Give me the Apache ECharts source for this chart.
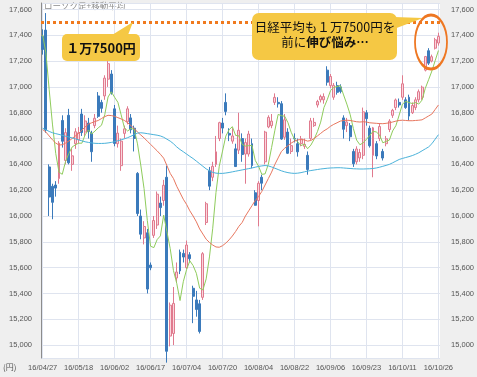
<!DOCTYPE html>
<html>
<head>
<meta charset="utf-8">
<script src="https://cdn.jsdelivr.net/npm/echarts@6.0.0/dist/echarts.min.js"></script>
<style>
html,body{margin:0;padding:0;background:#efefef;}
#chart{width:477px;height:377px;}
</style>
</head>
<body>
<div id="chart"></div>
<script>
// 日経平均 日足 16/04/27 - 16/10/26
var dates = ['16/04/27','16/04/28','16/05/02','16/05/06','16/05/09','16/05/10','16/05/11','16/05/12','16/05/13','16/05/16',
  '16/05/17','16/05/18','16/05/19','16/05/20','16/05/23','16/05/24','16/05/25','16/05/26','16/05/27','16/05/30',
  '16/05/31','16/06/01','16/06/02','16/06/03','16/06/06','16/06/07','16/06/08','16/06/09','16/06/10','16/06/13',
  '16/06/14','16/06/15','16/06/16','16/06/17','16/06/20','16/06/21','16/06/22','16/06/23','16/06/24','16/06/27',
  '16/06/28','16/06/29','16/06/30','16/07/01','16/07/04','16/07/05','16/07/06','16/07/07','16/07/08','16/07/11',
  '16/07/12','16/07/13','16/07/14','16/07/15','16/07/19','16/07/20','16/07/21','16/07/22','16/07/25','16/07/26',
  '16/07/27','16/07/28','16/07/29','16/08/01','16/08/02','16/08/03','16/08/04','16/08/05','16/08/08','16/08/09',
  '16/08/10','16/08/12','16/08/15','16/08/16','16/08/17','16/08/18','16/08/19','16/08/22','16/08/23','16/08/24',
  '16/08/25','16/08/26','16/08/29','16/08/30','16/08/31','16/09/01','16/09/02','16/09/05','16/09/06','16/09/07',
  '16/09/08','16/09/09','16/09/12','16/09/13','16/09/14','16/09/15','16/09/16','16/09/20','16/09/21','16/09/23',
  '16/09/26','16/09/27','16/09/28','16/09/29','16/09/30','16/10/03','16/10/04','16/10/05','16/10/06','16/10/07',
  '16/10/11','16/10/12','16/10/13','16/10/14','16/10/17','16/10/18','16/10/19','16/10/20','16/10/21','16/10/24',
  '16/10/25','16/10/26'];

var opens = [17390,17440,16380,16230,16240,16290,16740,16430,16780,16400,
  16560,16590,16790,16650,16720,16640,16700,16930,16880,16930,
  17060,17100,16830,16560,16390,16640,16730,16760,16680,16330,
  16000,15830,15870,15620,15850,15930,16100,16120,16300,15070,
  15090,15520,15720,15710,15600,15700,15440,15350,15320,15370,
  15950,16350,16300,16400,16600,16720,16880,16640,16580,16520,
  16510,16600,16480,16480,16560,16180,16120,16300,16420,16690,
  16700,16880,16880,16870,16610,16650,16500,16600,16560,16560,
  16540,16470,16600,16700,16860,16900,16900,17130,17010,16920,
  17010,17000,16760,16700,16700,16500,16420,16450,16470,16800,
  16680,16470,16560,16600,16500,16560,16670,16780,16840,16880,
  16920,16900,16920,16800,16840,16900,16920,17130,17280,17200,
  17300,17340];

var closes = [17290,16666,16147,16106,16216,16565,16579,16646,16412,16466,
  16653,16644,16646,16736,16654,16498,16757,16772,16834,17068,
  17180,16955,16562,16642,16580,16675,16830,16668,16601,16019,
  15859,15919,15434,15599,15965,16169,16065,16238,14952,15309,
  15323,15566,15575,15682,15775,15669,15378,15276,15106,15708,
  16095,16231,16385,16497,16723,16681,16810,16627,16620,16383,
  16664,16476,16569,16635,16391,16083,16254,16254,16650,16764,
  16735,16919,16869,16596,16745,16486,16545,16598,16497,16597,
  16555,16360,16737,16725,16887,16926,16925,17037,17081,17012,
  16958,16965,16672,16729,16614,16405,16519,16492,16807,16754,
  16544,16683,16465,16693,16449,16598,16735,16819,16899,16860,
  17024,16840,16774,16856,16900,16963,16998,17235,17184,17234,
  17365,17391];

var highs = [17446,17572,16400,16250,16270,16580,16780,16680,16830,16520,
  16680,16690,16830,16780,16760,16660,16790,16960,16900,17090,
  17200,17130,16860,16700,16600,16700,16850,16790,16700,16340,
  16050,15960,15900,15640,16000,16190,16150,16280,16390,15330,
  15450,15640,15740,15740,15810,15720,15460,15420,15350,15720,
  16110,16380,16420,16620,16730,16760,16950,16680,16680,16560,
  16800,16640,16600,16660,16600,16200,16270,16320,16660,16780,
  16790,16950,16920,16890,16790,16680,16600,16640,16600,16620,
  16600,16500,16760,16760,16900,16940,16950,17160,17100,17030,
  17040,17020,16780,16760,16720,16520,16540,16520,16840,16820,
  16700,16690,16580,16720,16520,16620,16750,16830,16910,16910,
  17090,16920,16940,16880,16920,16980,17010,17240,17300,17250,
  17380,17420];

var lows = [17250,16645,16000,15975,16150,16250,16530,16400,16400,16350,
  16520,16560,16620,16620,16600,16420,16680,16760,16800,16900,
  17000,16940,16540,16530,16350,16600,16710,16640,16500,16000,
  15820,15780,15400,15580,15830,15900,16000,16080,14864,14990,
  15000,15480,15550,15640,15590,15640,15170,15220,15090,15350,
  15930,16200,16270,16380,16580,16640,16780,16580,16560,16380,
  16480,16420,16250,16460,16370,16080,15920,16200,16400,16680,
  16680,16860,16840,16590,16590,16480,16480,16570,16460,16540,
  16520,16320,16590,16690,16840,16880,16870,17010,16990,16900,
  16940,16950,16600,16650,16580,16380,16400,16420,16440,16700,
  16530,16300,16440,16580,16430,16540,16650,16760,16820,16840,
  16900,16830,16740,16790,16820,16880,16900,17120,17170,17190,
  17290,17320];

// 移動平均 (5日・25日・75日)
var ma5 = [17403,17264,16979,16712,16485,16340,16323,16422,16484,16534,
  16551,16564,16564,16629,16667,16636,16658,16683,16703,16786,
  16922,16962,16920,16881,16784,16683,16658,16679,16671,16559,
  16395,16213,15966,15766,15755,15817,15846,16007,15878,15747,
  15577,15478,15345,15491,15584,15653,15616,15556,15441,15427,
  15513,15683,15905,16183,16386,16503,16619,16668,16692,16624,
  16621,16554,16542,16545,16547,16431,16386,16323,16326,16401,
  16531,16664,16787,16777,16773,16723,16648,16594,16574,16545,
  16558,16521,16549,16595,16653,16727,16840,16900,16971,16996,
  17003,17011,16938,16867,16788,16677,16588,16552,16567,16595,
  16623,16656,16651,16628,16567,16578,16588,16659,16700,16782,
  16867,16888,16879,16871,16879,16867,16898,16990,17056,17123,
  17203,17282];

var ma25 = [16670,16650,16620,16590,16565,16550,16552,16565,16580,16600,
  16620,16640,16665,16690,16712,16722,16732,16740,16755,16770,
  16780,16778,16772,16762,16752,16740,16722,16700,16678,16650,
  16628,16605,16580,16555,16530,16505,16478,16448,16390,16330,
  16290,16230,16180,16130,16090,16040,16000,15955,15900,15860,
  15820,15795,15775,15760,15758,15770,15790,15815,15845,15880,
  15920,15950,16000,16040,16080,16120,16150,16190,16240,16290,
  16340,16400,16450,16500,16525,16545,16565,16580,16590,16592,
  16590,16580,16585,16600,16620,16640,16660,16675,16695,16710,
  16722,16735,16740,16742,16740,16735,16730,16728,16730,16728,
  16722,16720,16718,16716,16715,16718,16722,16728,16735,16740,
  16742,16740,16738,16738,16740,16742,16745,16760,16775,16790,
  16825,16860];

var ma75 = [16680,16668,16655,16645,16638,16632,16625,16618,16612,16605,
  16598,16590,16582,16575,16570,16566,16563,16562,16562,16563,
  16566,16570,16576,16583,16590,16598,16607,16618,16630,16642,
  16645,16642,16638,16634,16630,16626,16620,16610,16595,16580,
  16560,16535,16515,16498,16480,16462,16445,16425,16405,16385,
  16365,16350,16338,16332,16330,16330,16333,16337,16342,16347,
  16352,16357,16362,16367,16372,16378,16384,16388,16391,16388,
  16380,16370,16360,16350,16342,16336,16332,16330,16332,16336,
  16342,16348,16352,16356,16360,16364,16367,16370,16372,16373,
  16374,16374,16372,16370,16368,16366,16365,16364,16364,16365,
  16366,16368,16372,16378,16385,16392,16400,16412,16425,16438,
  16446,16453,16460,16468,16478,16490,16505,16520,16535,16560,
  16595,16630];

var line17500 = 17500;

var candles = dates.map(function (d, i) {
  return [opens[i], closes[i], lows[i], highs[i]];
});

function comma(v) {
  return String(v).replace(/\B(?=(\d{3})+(?!\d))/g, ',');
}

var jp = '"Noto Sans CJK JP"';
var gold = '#f5c844';
var labelStyle = { fontSize: 7.5, color: '#555', fontFamily: 'Arial, "Liberation Sans"' };

var myChart = echarts.init(document.getElementById('chart'));
var option = {
  backgroundColor: '#efefef',
  animation: false,
  grid: {
    left: 41, right: 35, top: 3, bottom: 19,
    show: true, backgroundColor: '#fff', borderWidth: 0
  },
  xAxis: {
    type: 'category',
    data: dates,
    boundaryGap: true,
    axisLine: { show: false },
    axisTick: { show: false },
    axisLabel: Object.assign({ interval: 10, margin: 6 }, labelStyle),
    splitLine: { show: true, interval: 10, alignWithLabel: true, lineStyle: { color: '#dfe4ef', width: 1 } }
  },
  yAxis: [{
    type: 'value', min: 14900, max: 17650, splitNumber: 14,
    axisLine: { show: true, lineStyle: { color: '#8c8c8c' } },
    axisTick: { show: false },
    axisLabel: Object.assign({ margin: 9, showMinLabel: false, showMaxLabel: false, formatter: comma }, labelStyle),
    splitLine: { lineStyle: { color: '#dfe4ef', width: 1 } }
  }, {
    type: 'value', min: 14900, max: 17650, splitNumber: 14, position: 'right',
    axisLine: { show: false },
    axisTick: { show: false },
    axisLabel: Object.assign({ margin: 11, showMinLabel: false, showMaxLabel: false, formatter: comma }, labelStyle),
    splitLine: { show: false }
  }],
  series: [{
    type: 'candlestick',
    data: candles,
    barWidth: '75%',
    itemStyle: {
      color: '#fad6dd', color0: '#3b7abb',
      borderColor: '#e07a8e', borderColor0: '#3b7abb', borderWidth: 1
    },
    markLine: {
      silent: true, symbol: 'none',
      label: { show: false },
      lineStyle: { color: '#f07a1e', width: 3, type: [3, 3] },
      data: [{ yAxis: line17500 }]
    }
  }, {
    type: 'line', data: ma5, showSymbol: false,
    lineStyle: { color: '#8fcc5c', width: 1 }
  }, {
    type: 'line', data: ma25, showSymbol: false,
    lineStyle: { color: '#e8775f', width: 1 }
  }, {
    type: 'line', data: ma75, showSymbol: false,
    lineStyle: { color: '#4ab2da', width: 1 }
  }],
  graphic: [
    { type: 'text', left: 44, top: 2, style: { text: 'ローソク足+移動平均', font: '8.5px ' + jp, fill: '#8a8a8a' } },
    { type: 'text', left: 3, top: 363, style: { text: '(円)', font: '8px ' + jp, fill: '#555' } },
    // 吹き出し 1
    { type: 'polygon', z: 100, shape: { points: [[112, 35], [133, 22], [128, 35]] }, style: { fill: gold } },
    { type: 'rect', z: 100, shape: { x: 62, y: 34, width: 78, height: 27, r: 5 }, style: { fill: gold } },
    { type: 'text', z: 101, x: 101, y: 48,
      style: { text: '１万7500円', font: 'bold 13px ' + jp, fill: '#111', align: 'center', verticalAlign: 'middle' } },
    // 吹き出し 2
    { type: 'polygon', z: 100, shape: { points: [[394, 17], [423, 18], [394, 29]] }, style: { fill: gold } },
    { type: 'rect', z: 100, shape: { x: 252, y: 13, width: 145, height: 47, r: 7 }, style: { fill: gold } },
    { type: 'text', z: 101, x: 325, y: 35,
      style: {
        text: '{n|日経平均も１万7500円を}\n{n|前に}{b|伸び悩み…}',
        align: 'center', verticalAlign: 'middle',
        rich: {
          n: { fontSize: 12.5, fontFamily: 'Noto Sans CJK JP', fill: '#111', lineHeight: 15 },
          b: { fontSize: 12.5, fontFamily: 'Noto Sans CJK JP', fontWeight: 'bold', fill: '#111', lineHeight: 15 }
        }
      } },
    { type: 'circle', z: 102, x: 431, y: 42, scaleX: 16 / 27, shape: { cx: 0, cy: 0, r: 27 },
      style: { fill: 'none', stroke: '#ee7722', lineWidth: 3, strokeNoScale: true } }
  ]
};
myChart.setOption(option);
</script>
</body>
</html>
